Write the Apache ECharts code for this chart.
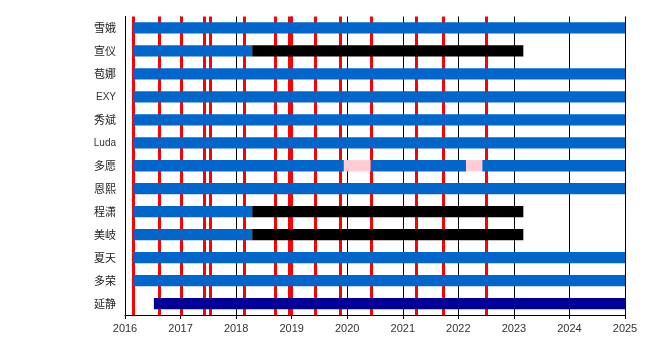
<!DOCTYPE html>
<html>
<head>
<meta charset="utf-8">
<script src="https://cdn.jsdelivr.net/npm/echarts@6/dist/echarts.min.js"></script>
<style>html,body{margin:0;padding:0;background:#fff}#c{width:650px;height:350px}</style>
</head>
<body>
<div id="c"></div>
<script>
const members = ['雪娥','宣仪','苞娜','EXY','秀斌','Luda','多愿','恩熙','程潇','美岐','夏天','多荣','延静'];
const yearTicks = [2016, 2017, 2018, 2019, 2020, 2021, 2022, 2023, 2024, 2025];
// [row, start, end]
const activeSpans = [
  [0, 2016.15, 2025], [1, 2016.15, 2018.29], [2, 2016.15, 2025], [3, 2016.15, 2025],
  [4, 2016.15, 2025], [5, 2016.15, 2025], [6, 2016.15, 2019.94], [6, 2020.42, 2022.14],
  [6, 2022.43, 2025], [7, 2016.15, 2025], [8, 2016.15, 2018.29], [9, 2016.15, 2018.29],
  [10, 2016.15, 2025], [11, 2016.15, 2025]
];
const inactiveSpans = [[1, 2018.29, 2023.17], [8, 2018.29, 2023.17], [9, 2018.29, 2023.17]];
const hiatusSpans = [[6, 2019.94, 2020.42], [6, 2022.14, 2022.43]];
const laterSpans = [[12, 2016.52, 2025]];
const releases = [2016.15, 2016.62, 2017.01, 2017.43, 2017.54, 2018.15, 2018.70, 2018.98, 2019.42, 2019.88, 2020.43, 2021.24, 2021.73, 2022.50];
const thickRelease = 2018.98;

function renderItemFactory(color) {
  return function (params, api) {
    const row = api.value(0);
    const p0 = api.coord([api.value(1), row]);
    const p1 = api.coord([api.value(2), row]);
    const h = api.size([0, 1])[1] * 0.49;
    const shape = echarts.graphic.clipRectByRect(
      { x: p0[0], y: p0[1] - h / 2, width: p1[0] - p0[0], height: h },
      { x: params.coordSys.x, y: params.coordSys.y, width: params.coordSys.width, height: params.coordSys.height }
    );
    return shape && { type: 'rect', shape: shape, style: { fill: color } };
  };
}
function barSeries(data, color) {
  return {
    type: 'custom', renderItem: renderItemFactory(color), data: data,
    encode: { x: [1, 2], y: 0 }, z: 5, silent: true, animation: false
  };
}

const chart = echarts.init(document.getElementById('c'), null, { renderer: 'canvas' });
chart.setOption({
  animation: false,
  backgroundColor: '#fff',
  grid: { left: 125, right: 25, top: 16.5, bottom: 35 },
  xAxis: {
    type: 'value', min: yearTicks[0], max: yearTicks[yearTicks.length - 1], interval: 1,
    axisLine: { show: true, lineStyle: { color: '#000', width: 1 } },
    axisTick: { show: true, length: 4, lineStyle: { color: '#000' } },
    splitLine: { show: true, lineStyle: { color: '#000', width: 1 } },
    axisLabel: {
      color: '#333', fontSize: 11, fontFamily: 'Liberation Sans', margin: 8,
      formatter: function (v) { return String(v); }
    }
  },
  yAxis: {
    type: 'category', data: members, inverse: true,
    axisLine: { show: true, lineStyle: { color: '#000', width: 1 } },
    axisTick: { show: false },
    splitLine: { show: false },
    axisLabel: {
      margin: 9,
      formatter: function (v) { return /^[A-Za-z]+$/.test(v) ? '{lat|' + v + '}' : '{cjk|' + v + '}'; },
      rich: {
        cjk: { fontSize: 11, color: '#222', fontFamily: 'Noto Sans CJK SC' },
        lat: { fontSize: 10, color: '#333', fontFamily: 'Liberation Sans' }
      }
    }
  },
  series: [
    {
      type: 'line', data: [], z: 1, silent: true,
      markLine: {
        silent: true, symbol: 'none', animation: false,
        label: { show: false },
        lineStyle: { color: '#ff0000', width: 3, type: 'solid' },
        emphasis: { disabled: true },
        data: releases.map(function (r) {
          return r === thickRelease ? { xAxis: r, lineStyle: { width: 5, color: '#ff0000', type: 'solid' } } : { xAxis: r };
        })
      }
    },
    barSeries(activeSpans, '#0066cc'),
    barSeries(inactiveSpans, '#000000'),
    barSeries(hiatusSpans, '#ffccd3'),
    barSeries(laterSpans, '#000099')
  ]
});
</script>
</body>
</html>
